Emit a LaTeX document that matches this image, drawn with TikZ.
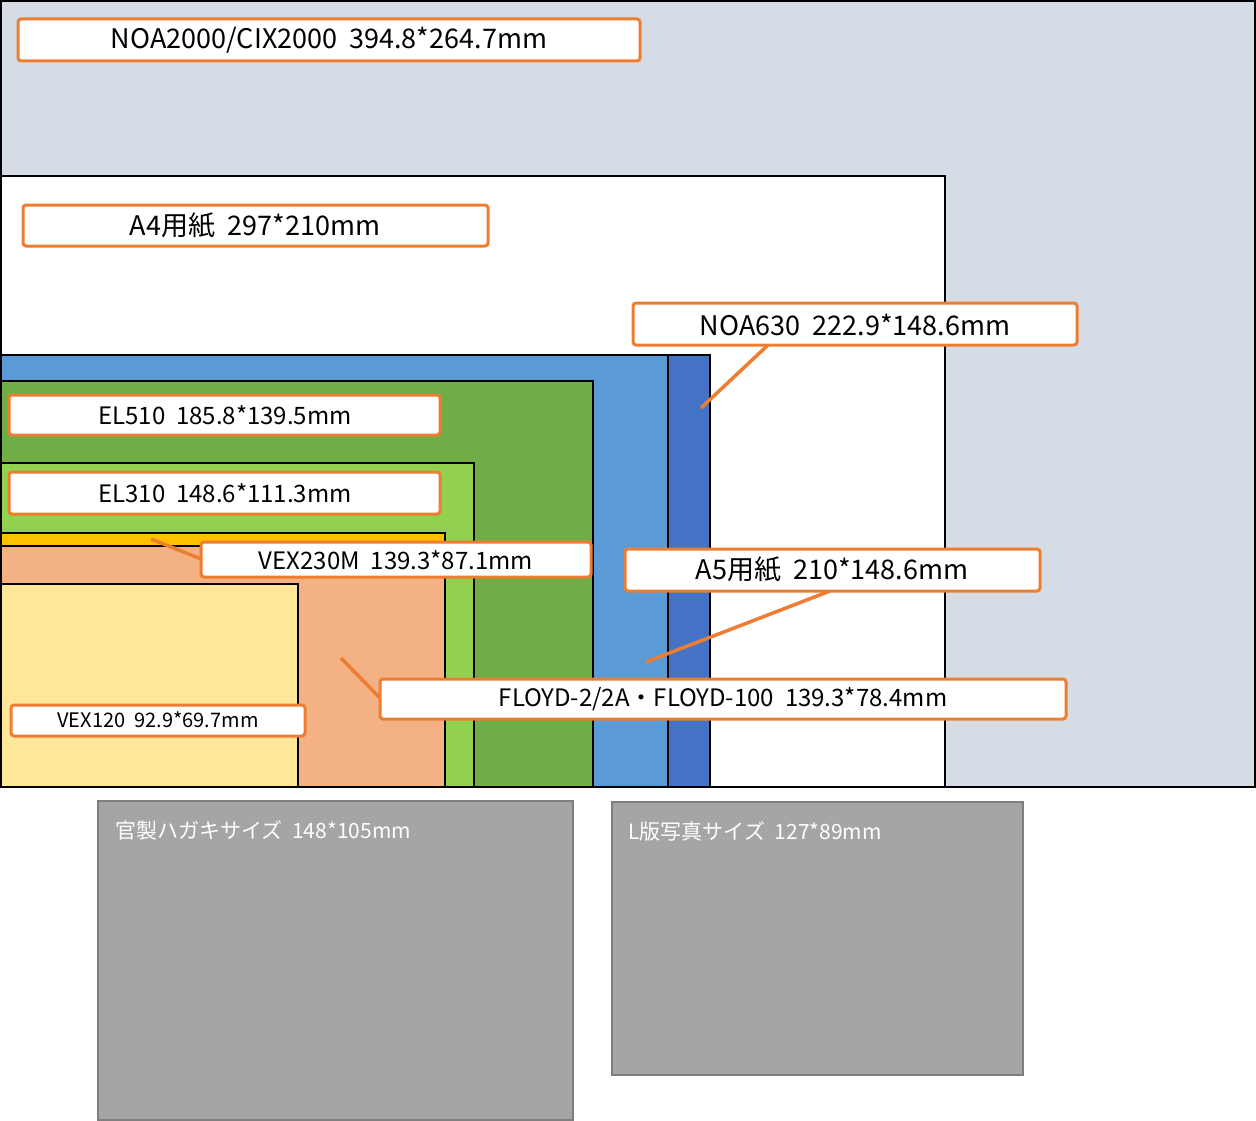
\documentclass[tikz,border=0pt]{standalone}
\usepackage{fontspec}
\setmainfont{Noto Sans CJK JP}
\begin{document}
\begin{tikzpicture}[x=1pt,y=-1pt,
  sheet/.style={draw=black,line width=1.5pt},
  lab/.style={draw=orange1,line width=3pt,fill=white,rounded corners=3pt},
  conn/.style={draw=orange1,line width=3.5pt},
  gbox/.style={draw=gray2,line width=1.5pt,fill=gray1}]
\definecolor{orange1}{HTML}{ED7D31}
\definecolor{gray1}{HTML}{A5A5A5}
\definecolor{gray2}{HTML}{7F7F7F}
\useasboundingbox (0,0) rectangle (1256,1121);
\fill[white] (0,0) rectangle (1256,1121);
\draw[sheet,fill={rgb,255:red,214;green,220;blue,229}] (1,1) rectangle (1255,787);
\draw[sheet,fill=white] (1,176) rectangle (945,787);
\draw[sheet,fill={rgb,255:red,68;green,114;blue,196}] (1,355) rectangle (710,787);
\draw[sheet,fill={rgb,255:red,91;green,155;blue,213}] (1,355) rectangle (668,787);
\draw[sheet,fill={rgb,255:red,112;green,173;blue,71}] (1,381) rectangle (593,787);
\draw[sheet,fill={rgb,255:red,146;green,208;blue,80}] (1,463) rectangle (474,787);
\draw[sheet,fill={rgb,255:red,255;green,192;blue,0}] (1,533) rectangle (445,787);
\draw[sheet,fill={rgb,255:red,244;green,177;blue,131}] (1,546) rectangle (445,787);
\draw[sheet,fill={rgb,255:red,255;green,230;blue,153}] (1,584) rectangle (298,787);
\draw[sheet,fill=none] (1,1) rectangle (1255,787);

\draw[gbox] (98,801) rectangle (573,1120);
\draw[gbox] (612,802) rectangle (1023,1075);
\node[anchor=west,text=white,font=\fontsize{21}{24}\selectfont] (g1) at (112,830) {官製ハガキサイズ\ \ 148*105mm};
\node[anchor=west,text=white,font=\fontsize{21}{24}\selectfont] (g2) at (625,831) {L版写真サイズ\ \ 127*89mm};

% connectors
\coordinate (c1) at (701,408);
\coordinate (c2) at (151,539);
\coordinate (c3) at (646,662);
\coordinate (c4) at (341,658);
\coordinate (s1) at (768,345);
\coordinate (s2) at (201,559);
\coordinate (s3) at (830,591);
\coordinate (s4) at (380,698);
\draw[conn] (s1) -- (c1);
\draw[conn] (s2) -- (c2);
\draw[conn] (s3) -- (c3);
\draw[conn] (s4) -- (c4);

\draw[lab] (18,19) rectangle (640,61);
\node[font=\fontsize{27}{30}\selectfont] (l1) at (329,40) {NOA2000/CIX2000\ \ 394.8*264.7mm};
\draw[lab] (23,205) rectangle (488,246);
\node[font=\fontsize{27}{30}\selectfont] (l2) at (255,226) {A4用紙\ \ 297*210mm};
\draw[lab] (633,303) rectangle (1077,345);
\node[font=\fontsize{27}{30}\selectfont] (l3) at (855,325) {NOA630\ \ 222.9*148.6mm};
\draw[lab] (9,395) rectangle (440,435);
\node[font=\fontsize{24}{27}\selectfont] (l4) at (225,415) {EL510\ \ 185.8*139.5mm};
\draw[lab] (9,472) rectangle (440,514);
\node[font=\fontsize{24}{27}\selectfont] (l5) at (225,493) {EL310\ \ 148.6*111.3mm};
\draw[lab] (201,542) rectangle (591,577);
\node[font=\fontsize{24}{27}\selectfont] (l6) at (396,560) {VEX230M\ \ 139.3*87.1mm};
\draw[lab] (625,549) rectangle (1040,591);
\node[font=\fontsize{27}{30}\selectfont] (l7) at (832,570) {A5用紙\ \ 210*148.6mm};
\draw[lab] (380,679) rectangle (1066,719);
\node[font=\fontsize{24}{27}\selectfont] (l8) at (723,699) {FLOYD-2/2A・FLOYD-100\ \ 139.3*78.4mm};
\draw[lab] (11,705) rectangle (305,736);
\node[font=\fontsize{20}{23}\selectfont] (l9) at (158,720) {VEX120\ \ 92.9*69.7mm};
\end{tikzpicture}
\end{document}
